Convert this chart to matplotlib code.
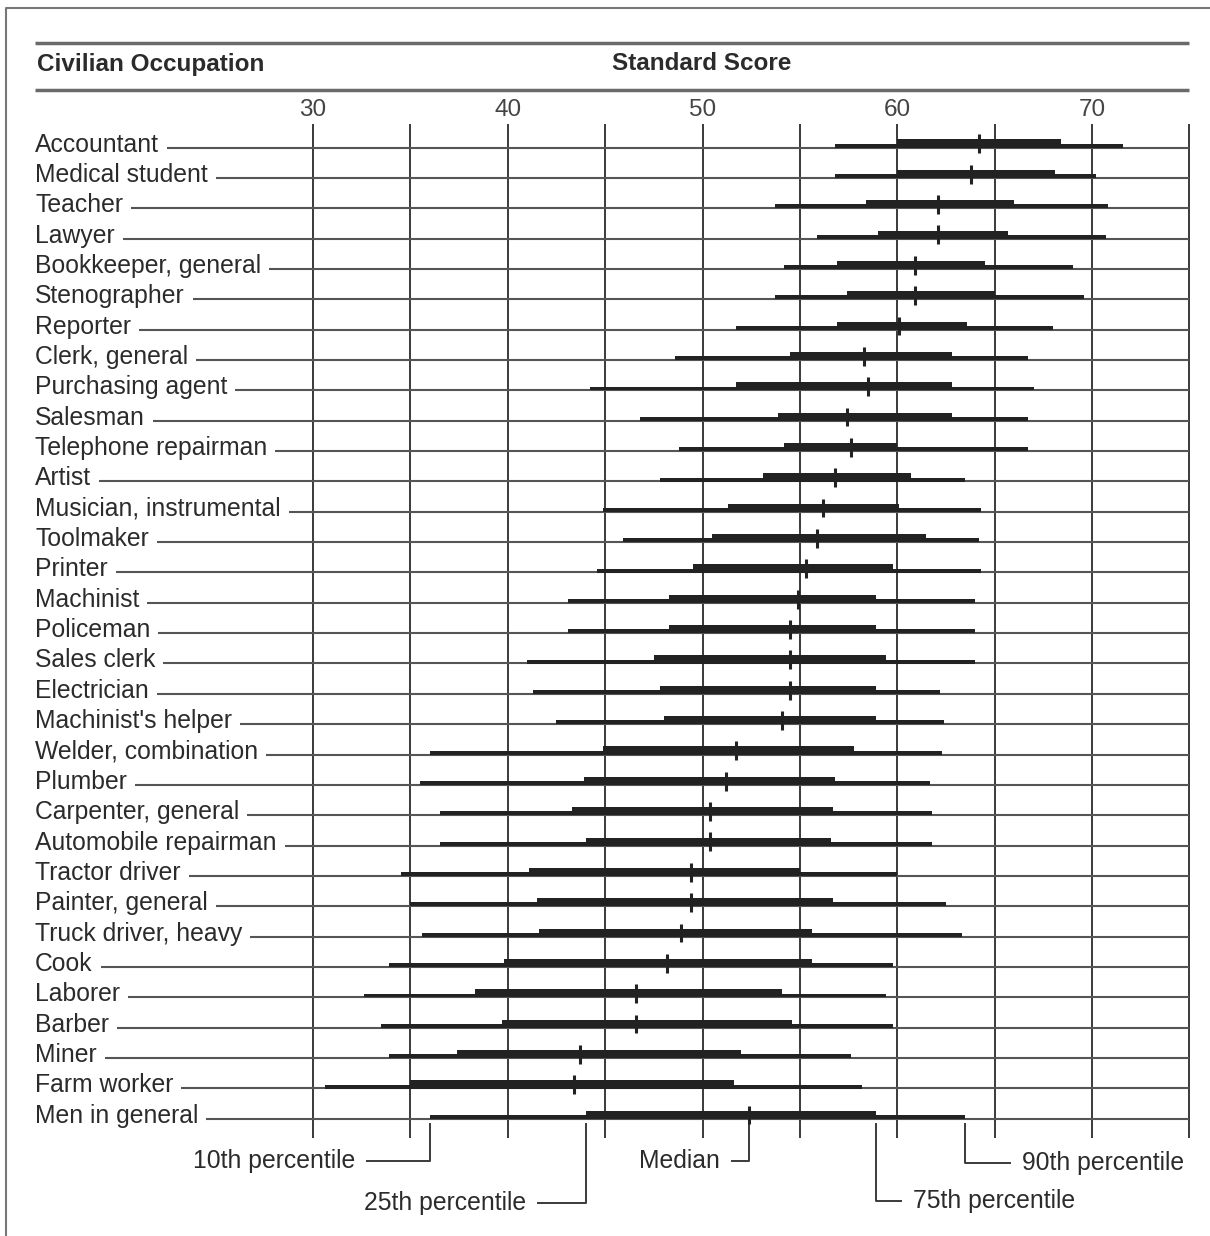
import numpy as np
import matplotlib.pyplot as plt

occupations = [
    "Accountant", "Medical student", "Teacher", "Lawyer", "Bookkeeper, general",
    "Stenographer", "Reporter", "Clerk, general", "Purchasing agent", "Salesman",
    "Telephone repairman", "Artist", "Musician, instrumental", "Toolmaker", "Printer",
    "Machinist", "Policeman", "Sales clerk", "Electrician", "Machinist's helper",
    "Welder, combination", "Plumber", "Carpenter, general", "Automobile repairman",
    "Tractor driver", "Painter, general", "Truck driver, heavy", "Cook", "Laborer",
    "Barber", "Miner", "Farm worker", "Men in general",
]
p10 = [56.8, 56.8, 53.7, 55.9, 54.2, 53.7, 51.7, 48.6, 44.2, 46.8, 48.8, 47.8, 44.9,
       45.9, 44.6, 43.1, 43.1, 41.0, 41.3, 42.5, 36.0, 35.5, 36.5, 36.5, 34.5, 35.0,
       35.6, 33.9, 32.6, 33.5, 33.9, 30.6, 36.0]
p25 = [60.0, 60.0, 58.4, 59.0, 56.9, 57.4, 56.9, 54.5, 51.7, 53.9, 54.2, 53.1, 51.3,
       50.5, 49.5, 48.3, 48.3, 47.5, 47.8, 48.0, 44.9, 43.9, 43.3, 44.0, 41.1, 41.5,
       41.6, 39.8, 38.3, 39.7, 37.4, 35.0, 44.0]
median = [64.2, 63.8, 62.1, 62.1, 60.9, 60.9, 60.1, 58.3, 58.5, 57.4, 57.6, 56.8, 56.2,
          55.9, 55.3, 54.9, 54.5, 54.5, 54.5, 54.1, 51.7, 51.2, 50.4, 50.4, 49.4, 49.4,
          48.9, 48.2, 46.6, 46.6, 43.7, 43.4, 52.4]
p75 = [68.4, 68.1, 66.0, 65.7, 64.5, 65.0, 63.6, 62.8, 62.8, 62.8, 60.0, 60.7, 60.1,
       61.5, 59.8, 58.9, 58.9, 59.4, 58.9, 58.9, 57.8, 56.8, 56.7, 56.6, 55.0, 56.7,
       55.6, 55.6, 54.1, 54.6, 52.0, 51.6, 58.9]
p90 = [71.6, 70.2, 70.8, 70.7, 69.0, 69.6, 68.0, 66.7, 67.0, 66.7, 66.7, 63.5, 64.3,
       64.2, 64.3, 64.0, 64.0, 64.0, 62.2, 62.4, 62.3, 61.7, 61.8, 61.8, 60.0, 62.5,
       63.3, 59.8, 59.4, 59.8, 57.6, 58.2, 63.5]
score_ticks = [30, 40, 50, 60, 70]
grid_scores = np.arange(30, 76, 5)

p10, p25, median, p75, p90 = map(np.array, (p10, p25, median, p75, p90))

plt.rcParams['font.family'] = ['Liberation Sans', 'DejaVu Sans']
TXT = '#2b2b2b'
INK = '#222222'

fig = plt.figure(figsize=(12.1, 12.36), dpi=100)
ax = fig.add_axes([0, 0, 1, 1])

# axes laid over the whole figure: 30 -> 313 px, 70 -> 1092 px, row 0 at 147.5 px
ppu = (1092 - 313) / 40
x0 = 30 - 313 / ppu
row_px = 30.35
row0 = 147.5
ax.set_xlim(x0, x0 + 1210 / ppu)
ax.set_ylim((1236 - row0) / row_px, -row0 / row_px)
ax.axis('off')


def xd(px):
    return x0 + px / ppu


def yd(py):
    return (py - row0) / row_px


# frame
ax.plot([xd(6), xd(6), xd(1210)], [yd(1236), yd(8), yd(8)], color='#777777', lw=1.5,
        solid_capstyle='butt')

# header
ax.hlines([yd(43), yd(90)], xd(35), 75, color='#6a6a6a', lw=2.5)
ax.text(xd(37), yd(64), "Civilian Occupation", fontsize=17.5, fontweight='bold',
        color=TXT, ha='left', va='center')
ax.text(xd(702), yd(64), "Standard Score", fontsize=17.5, fontweight='bold',
        color=TXT, ha='center', va='center')
for v in score_ticks:
    ax.text(v, yd(110), str(v), fontsize=17.5, color='#444444', ha='center', va='center')

# grid
ax.vlines(grid_scores, yd(124), yd(1138), color='#3a3a3a', lw=1.4)

y = np.arange(len(occupations))
labels = []
for yi, name in zip(y, occupations):
    labels.append(ax.text(xd(35), yi + 4 / row_px, name, fontsize=17.8, color=TXT,
                          ha='left', va='baseline'))

fig.canvas.draw()
renderer = fig.canvas.get_renderer()
inv = ax.transData.inverted()
for yi, t in zip(y, labels):
    bb = t.get_window_extent(renderer)
    start = inv.transform((bb.x1 + 8, 0))[0]
    ax.hlines(yi, start, 75, color='#555555', lw=1.5)

# distributions
ax.barh(y - 0.06, p90 - p10, left=p10, height=0.13, color=INK, zorder=3)
ax.barh(y - 0.13, p75 - p25, left=p25, height=0.27, color=INK, zorder=3)
ax.vlines(median, y - 0.43, y + 0.19, color=INK, lw=2.2, zorder=4)

# percentile key on "Men in general"
last = len(occupations) - 1
key = [
    (p10[last], 1161, -1, 63, "10th percentile"),
    (p25[last], 1203, -1, 48, "25th percentile"),
    (median[last], 1161, -1, 17, "Median"),
    (p75[last], 1201, 1, 25, "75th percentile"),
    (p90[last], 1163, 1, 45, "90th percentile"),
]
for val, ypx, side, length, text in key:
    xe = val + side * length / ppu
    ax.plot([val, val, xe], [yd(1124), yd(ypx), yd(ypx)], color='#3a3a3a', lw=1.4)
    ax.text(xe + side * 12 / ppu, yd(ypx), text, fontsize=17.8, color=TXT,
            ha='left' if side > 0 else 'right', va='center')

fig.savefig('out.png', dpi=100)
